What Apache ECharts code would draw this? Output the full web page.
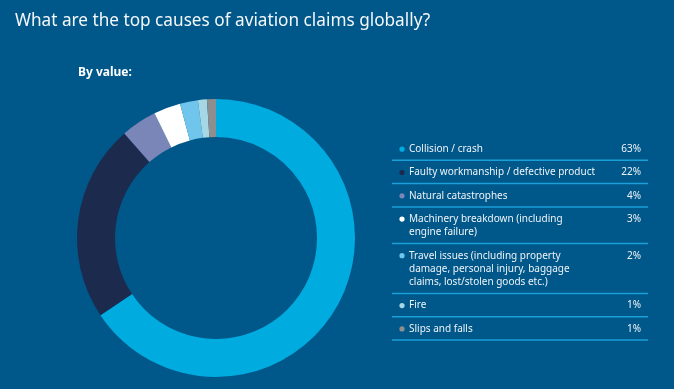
<!DOCTYPE html>
<html>
<head>
<meta charset="utf-8">
<script src="https://cdn.jsdelivr.net/npm/echarts@6/dist/echarts.min.js"></script>
<style>
html,body{margin:0;padding:0;background:#00578a;}
#chart{width:674px;height:389px;}
</style>
</head>
<body>
<div id="chart"></div>
<script>
const titleText = 'What are the top causes of aviation claims globally?';
const subtitleText = 'By value:';
const categories = [
  'Collision / crash',
  'Faulty workmanship / defective product',
  'Natural catastrophes',
  'Machinery breakdown (including\nengine failure)',
  'Travel issues (including property\ndamage, personal injury, baggage\nclaims, lost/stolen goods etc.)',
  'Fire',
  'Slips and falls'
];
const values = [63, 22, 4, 3, 2, 1, 1];
const colors = ['#00abdf', '#1c2a4e', '#7b86b8', '#ffffff', '#6fc5ec', '#a6d7e5', '#8e8e8e'];

const FONT = '"Noto Sans", sans-serif';
const chart = echarts.init(document.getElementById('chart'), null, {renderer: 'canvas'});

const graphics = [];
let y = 137;
const baseH = 23.3, lineH = 13.3;
categories.forEach((c, i) => {
  const n = c.split('\n').length;
  const h = baseH + (n - 1) * lineH;
  graphics.push({type: 'circle', shape: {cx: 402, cy: y + 12.2, r: 2.6}, style: {fill: colors[i]}, silent: true});
  graphics.push({type: 'text', x: 409, y: y + 5.6, style: {text: c, fill: '#eef4f8', font: '10px ' + FONT, lineHeight: lineH, textAlign: 'left', textVerticalAlign: 'top'}, silent: true});
  graphics.push({type: 'text', x: 641, y: y + 5.6, style: {text: values[i] + '%', fill: '#eef4f8', font: '10px ' + FONT, lineHeight: lineH, textAlign: 'right', textVerticalAlign: 'top'}, silent: true});
  y += h;
  graphics.push({type: 'line', shape: {x1: 392, y1: y, x2: 648, y2: y}, style: {stroke: '#1a9fd8', lineWidth: 1.5}, silent: true});
});
graphics.push({type: 'text', x: 78, y: 73, style: {text: subtitleText, fill: '#ffffff', font: 'bold 12px ' + FONT, textVerticalAlign: 'middle'}, silent: true});

chart.setOption({
  backgroundColor: '#00578a',
  animation: false,
  title: {
    text: titleText, left: 10, top: 8,
    textStyle: {color: '#f4f8fb', fontSize: 17.2, fontWeight: 'normal', fontFamily: FONT}
  },
  series: [{
    type: 'pie',
    center: [216, 238],
    radius: [101, 139],
    startAngle: 90,
    clockwise: true,
    label: {show: false},
    labelLine: {show: false},
    emphasis: {disabled: true},
    itemStyle: {borderWidth: 0},
    data: categories.map((c, i) => ({name: c, value: values[i], itemStyle: {color: colors[i]}}))
  }],
  graphic: graphics
});
</script>
</body>
</html>
